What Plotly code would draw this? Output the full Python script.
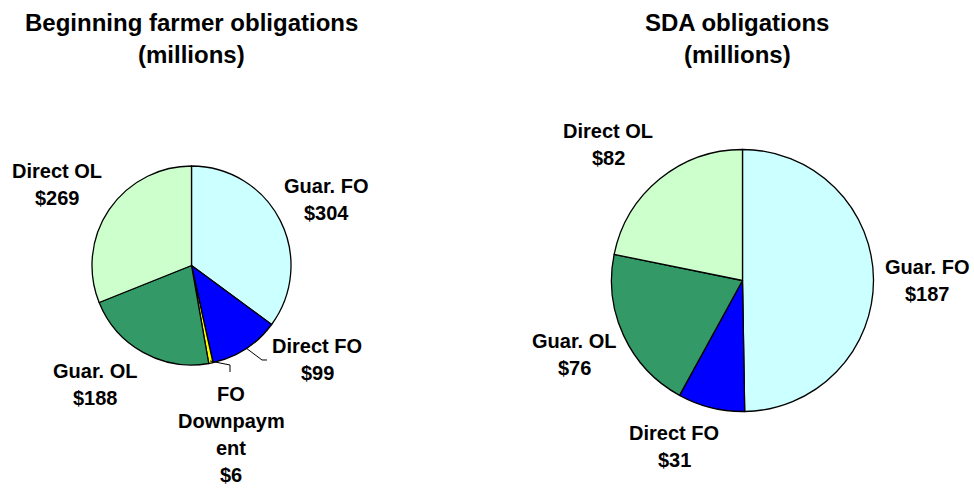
import plotly.graph_objects as go

# Data
bf_labels = ["Guar. FO", "Direct FO", "FO Downpayment", "Guar. OL", "Direct OL"]
bf_values = [304, 99, 6, 188, 269]
sda_labels = ["Guar. FO", "Direct FO", "Guar. OL", "Direct OL"]
sda_values = [187, 31, 76, 82]

color_map = {
    "Guar. FO": "#CCFFFF",
    "Direct FO": "#0000FF",
    "FO Downpayment": "#FFFF00",
    "Guar. OL": "#339966",
    "Direct OL": "#CCFFCC",
}

W, H = 974, 489

def px(x):
    return x / W

def py(y):
    return 1 - y / H

fig = go.Figure()

fig.add_trace(go.Pie(
    labels=bf_labels, values=bf_values, sort=False, direction="clockwise", rotation=0,
    marker=dict(colors=[color_map[l] for l in bf_labels], line=dict(color="black", width=1.3)),
    textinfo="none", hoverinfo="label+value",
    domain=dict(x=[px(92), px(291)], y=[py(365), py(166)]),
    showlegend=False,
))
fig.add_trace(go.Pie(
    labels=sda_labels, values=sda_values, sort=False, direction="clockwise", rotation=0,
    marker=dict(colors=[color_map[l] for l in sda_labels], line=dict(color="black", width=1.3)),
    textinfo="none", hoverinfo="label+value",
    domain=dict(x=[px(611.5), px(873.5)], y=[py(411.5), py(149.5)]),
    showlegend=False,
))

FAM = "Liberation Sans, Arial, sans-serif"
font = dict(family=FAM, size=20, color="black")
tfont = dict(family=FAM, size=24, color="black")

anns = []
def txt(s, x, y, f=font):
    anns.append(dict(text="<b>%s</b>" % s, x=px(x), y=py(y), xref="paper", yref="paper",
                     xanchor="center", yanchor="middle", showarrow=False, font=f))

# titles
txt("Beginning farmer obligations", 191, 23, tfont)
txt("(millions)", 191, 55, tfont)
txt("SDA obligations", 737, 23, tfont)
txt("(millions)", 737, 55, tfont)

LS = 27  # line step in px
# label positions (pixel centers of first line)
bf_pos = {
    "Guar. FO": (326, 186),
    "Direct FO": (317, 346),
    "FO Downpayment": (231, 394),
    "Guar. OL": (95, 371),
    "Direct OL": (57, 171),
}
bf_split = {"FO Downpayment": ["FO", "Downpaym", "ent"]}
for lab, val in zip(bf_labels, bf_values):
    lines = bf_split.get(lab, [lab]) + ["$%d" % val]
    x, y = bf_pos[lab]
    for i, s in enumerate(lines):
        txt(s, x, y + i * LS)

sda_pos = {
    "Guar. FO": (927, 267),
    "Direct FO": (674, 433),
    "Guar. OL": (574, 341),
    "Direct OL": (608, 131),
}
for lab, val in zip(sda_labels, sda_values):
    x, y = sda_pos[lab]
    txt(lab, x, y)
    txt("$%d" % val, x, y + LS)

# leader lines
def path(pts):
    d = "M %f,%f " % (px(pts[0][0]), py(pts[0][1]))
    for p in pts[1:]:
        d += "L %f,%f " % (px(p[0]), py(p[1]))
    return dict(type="path", path=d, xref="paper", yref="paper", line=dict(color="black", width=1))

shapes = [
    path([(246, 348), (262, 360), (267, 360)]),
    path([(210, 361), (230, 365), (230, 372)]),
]

fig.update_layout(
    width=W, height=H, margin=dict(l=0, r=0, t=0, b=0),
    paper_bgcolor="white", plot_bgcolor="white",
    annotations=anns, shapes=shapes,
)

fig.write_html("out.html", config={"displayModeBar": False},
               post_script="document.body.style.margin='0';")
